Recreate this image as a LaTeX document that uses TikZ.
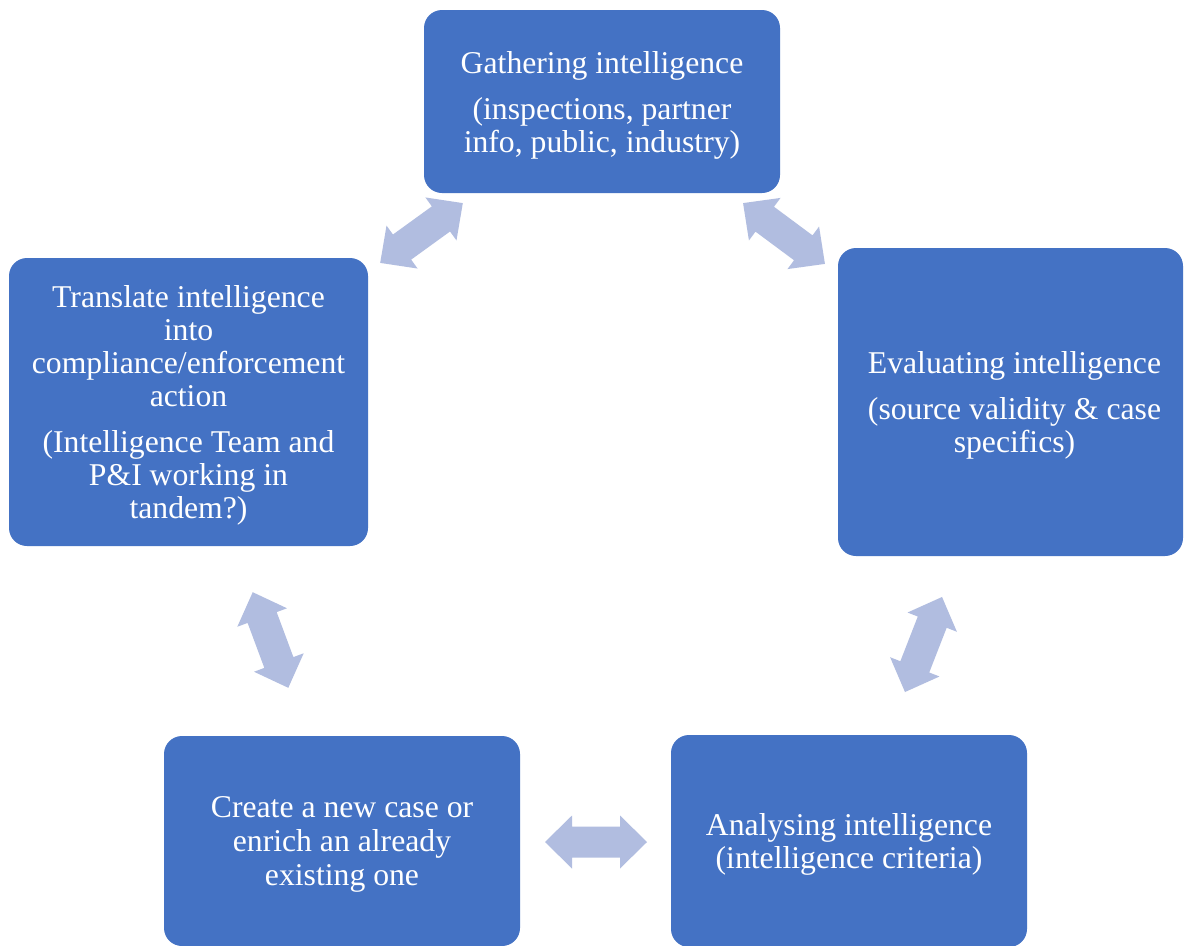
\documentclass[tikz,border=0pt]{standalone}
\usepackage{fontspec}
\setmainfont{Liberation Serif}
\definecolor{boxblue}{HTML}{4472C4}
\definecolor{arrowblue}{HTML}{B1BDE0}
\tikzset{
  stagebox/.style={rectangle, rounded corners=18pt, fill=boxblue, draw=none,
    inner sep=0pt},
  stagetext/.style={text=white, align=center, inner sep=0pt, yshift=-3.5pt,
    font=\fontsize{31.7pt}{33pt}\selectfont},
  cyclearrow/.style={fill=arrowblue, draw=none},
}
% double-headed block arrow centred on the origin, pointing along x
\newcommand{\dblarrowpath}{(-51,0) -- (-24,26.5) -- (-24,15.5) -- (24,15.5) -- (24,26.5)
  -- (51,0) -- (24,-26.5) -- (24,-15.5) -- (-24,-15.5) -- (-24,-26.5) -- cycle}
\begin{document}
\begin{tikzpicture}[x=1pt, y=-1pt]
\clip (0,0) rectangle (1185,945);
\fill[white] (0,0) rectangle (1185,945);

% stages of the cycle
\node[stagebox, minimum width=356pt, minimum height=183pt] (gather) at (602,101.5) {};
\node[stagebox, minimum width=345pt, minimum height=308pt] (eval) at (1010.5,402) {};
\node[stagebox, minimum width=356pt, minimum height=212pt] (analyse) at (849,841) {};
\node[stagebox, minimum width=356pt, minimum height=210pt] (create) at (342,841) {};
\node[stagebox, minimum width=359pt, minimum height=288pt] (translate) at (188.5,402) {};

\node[stagetext] (gathertext) at (gather.center)
  {Gathering intelligence\\[13pt](inspections, partner\\info, public, industry)};
\node[stagetext, xshift=4pt] (evaltext) at (eval.center)
  {Evaluating intelligence\\[13pt](source validity \& case\\specifics)};
\node[stagetext] (analysetext) at (analyse.center)
  {Analysing intelligence\\(intelligence criteria)};
\node[stagetext, font=\fontsize{31.7pt}{34pt}\selectfont] (createtext) at (create.center)
  {Create a new case or\\enrich an already\\existing one};
\node[stagetext] (translatetext) at (translate.center)
  {Translate intelligence\\into\\compliance/enforcement\\action\\[13pt](Intelligence Team and\\P\&I working in\\tandem?)};

% two-way arrows between neighbouring stages
\coordinate (gt) at (421.5,233);
\coordinate (ge) at (784,233.5);
\coordinate (ea) at (923.5,644.5);
\coordinate (ac) at (596,842);
\coordinate (ct) at (270.5,640);
\fill[cyclearrow, shift={(gt)}, rotate=35.9] \dblarrowpath;
\fill[cyclearrow, shift={(ge)}, rotate=-36.6] \dblarrowpath;
\fill[cyclearrow, shift={(ea)}, rotate=68.7] \dblarrowpath;
\fill[cyclearrow, shift={(ac)}] \dblarrowpath;
\fill[cyclearrow, shift={(ct)}, rotate=110.4] \dblarrowpath;
\end{tikzpicture}
\end{document}
